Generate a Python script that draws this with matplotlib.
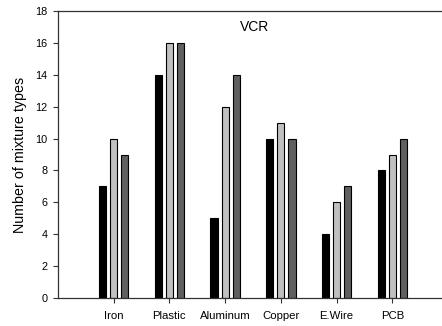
import matplotlib
matplotlib.use("Agg")
import matplotlib.pyplot as plt
import numpy as np

plt.rcParams['font.family'] = ['Liberation Sans', 'DejaVu Sans']

categories = ["Iron", "Plastic", "Aluminum", "Copper", "E.Wire", "PCB"]
series_a = [7, 14, 5, 10, 4, 8]
series_b = [10, 16, 12, 11, 6, 9]
series_c = [9, 16, 14, 10, 7, 10]
yticks = [0, 2, 4, 6, 8, 10, 12, 14, 16, 18]

fig = plt.figure(figsize=(4.42, 3.26), dpi=100)
ax = fig.add_axes([58 / 442, 28 / 326, 390 / 442, 287 / 326])

x = np.arange(1, len(categories) + 1)
width = 0.13
step = 0.2
colors = ["#000000", "#c0c0c0", "#5f5f5f"]
for off, vals, col in zip((-step, 0, step), (series_a, series_b, series_c), colors):
    ax.bar(x + off, vals, width=width, color=col, edgecolor="#000000", linewidth=0.8)

ax.set_xlim(0, 7)
ax.set_ylim(0, 18)
ax.set_xticks(x)
ax.set_xticklabels(categories, fontsize=8.2)
ax.set_yticks(yticks)
ax.set_yticklabels([str(t) for t in yticks], fontsize=7.8)
ax.tick_params(axis="both", direction="out", length=3.5, width=0.8, color="#333333")
ax.tick_params(axis="x", pad=6)
ax.tick_params(axis="y", pad=4)
ax.set_ylabel("Number of mixture types", fontsize=10.3, labelpad=6)
for s in ax.spines.values():
    s.set_linewidth(0.9)
    s.set_color("#333333")
ax.text(3.52, 17.0, "VCR", ha="center", va="center", fontsize=10)

fig.savefig("out.png", dpi=100)
